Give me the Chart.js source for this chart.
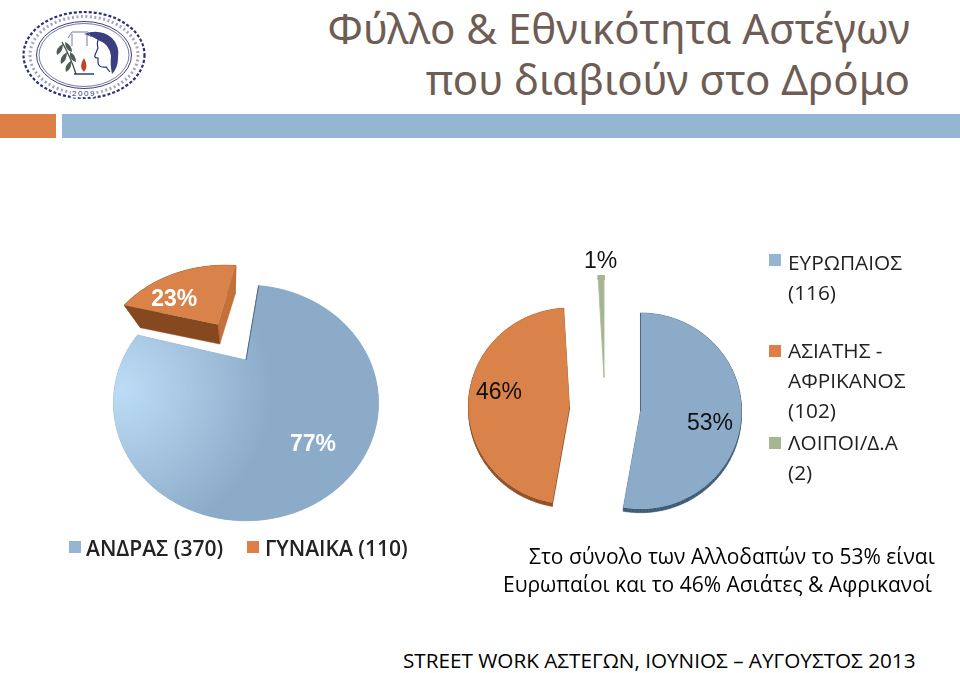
<!DOCTYPE html>
<html>
<head>
<meta charset="utf-8">
<script src="https://cdn.jsdelivr.net/npm/chart.js@4"></script>
<style>
html, body { margin: 0; padding: 0; background: #fff; }
body { position: relative; width: 960px; height: 673px; overflow: hidden; font-family: "Open Sans", "Noto Sans", sans-serif; color: #000; }
canvas { position: absolute; }
.txt { position: absolute; white-space: nowrap; }
.title { right: 50px; font-family: "Noto Sans", sans-serif; font-size: 42px; color: #6e5d55; }
.bar { position: absolute; top: 114px; height: 24px; }
.swatch { position: absolute; width: 12px; height: 12px; }
</style>
</head>
<body>
<svg style="position:absolute;left:18px;top:6px" width="132" height="98" viewBox="0 0 132 98">
  <ellipse cx="66" cy="49" rx="60.5" ry="43" fill="none" stroke="#2b2f78" stroke-width="2.2" stroke-dasharray="3 2"/>
  <ellipse cx="66" cy="49" rx="54" ry="38.5" fill="none" stroke="#55588f" stroke-width="3" stroke-dasharray="2 2.5" opacity="0.55"/>
  <ellipse cx="66" cy="49" rx="47.5" ry="33.5" fill="none" stroke="#3a3d7c" stroke-width="1"/>
  <ellipse cx="66" cy="49" rx="45" ry="31.5" fill="none" stroke="#3a3d7c" stroke-width="0.7"/>
  <path d="M82 30 q-4 6 -2 12 l-3 7 q-1 3 3 3 l0 5 q1 5 8 4 l4 5" fill="none" stroke="#2b2f78" stroke-width="1.2"/>
  <path d="M66 28 q16 -6 28 4 q8 8 6 20 q0 10 -6 16 q-2 -10 -1 -18 q-2 -12 -11 -15 q-8 -5 -16 -7z" fill="#3b3e80"/>
  <path d="M44 36 q9 16 14 32" fill="none" stroke="#3f4c48" stroke-width="1.3"/>
  <path d="M45 38 q-8 4 -6 11 q6 -3 6 -11z M49 46 q-8 5 -6 12 q6 -3 6 -12z M53 55 q-7 4 -5 11 q6 -3 5 -11z M47 36 q7 3 7 10 q-7 -2 -7 -10z M52 46 q6 3 6 10 q-7 -2 -6 -10z" fill="#4f5d56"/>
  <path d="M66 52 q-6 9 0 14 q5 -5 0 -14z" fill="#c0452e"/>
  <path d="M56 68 h20" stroke="#333a6a" stroke-width="1.5"/>
  <path d="M50 32 l4 -6 h16 l3 5 M54 28 v12 M69 28 v12" fill="none" stroke="#777aa5" stroke-width="1"/>
  <text x="66" y="90" font-family="Liberation Sans" font-size="8" text-anchor="middle" fill="#333a6a" letter-spacing="1.5" stroke="#fff" stroke-width="3" paint-order="stroke">2009</text>
</svg>

<div class="txt title" style="top:-1px">Φύλλο &amp; Εθνικότητα Αστέγων</div>
<div class="txt title" style="top:50px">που διαβιούν στο Δρόμο</div>

<div class="bar" style="left:0;width:56px;background:#dd8047"></div>
<div class="bar" style="left:62px;width:898px;background:#94b6d2"></div>

<canvas id="genderPie" width="400" height="400" style="left:46px;top:160px"></canvas>
<canvas id="originPie" width="400" height="400" style="left:405px;top:208px"></canvas>

<div id="legends"></div>

<div class="txt" style="left:529px;top:542px;font-size:21px">Στο σύνολο των Αλλοδαπών το 53% είναι</div>
<div class="txt" style="left:503px;top:570px;font-size:21px">Ευρωπαίοι και το 46% Ασιάτες &amp; Αφρικανοί</div>
<div class="txt" style="left:403px;top:646px;font-size:20.7px">STREET WORK ΑΣΤΕΓΩΝ, ΙΟΥΝΙΟΣ – ΑΥΓΟΥΣΤΟΣ 2013</div>

<script>
// Data
const genderLabels = ['ΑΝΔΡΑΣ', 'ΓΥΝΑΙΚΑ'];
const genderValues = [370, 110];
const originLabels = ['ΕΥΡΩΠΑΙΟΣ', 'ΑΣΙΑΤΗΣ - ΑΦΡΙΚΑΝΟΣ', 'ΛΟΙΠΟΙ/Δ.Α'];
const originValues = [116, 102, 2];

const blue = '#8cabc9';
const orange = '#d9824a';
const green = '#a6b592';

// Tilted-disc projection of the arcs Chart.js lays out: the library gives the
// angles and offsets, this plugin only paints them with a bit of perspective.
const tiltPlugin = {
    id: 'tilt',
    beforeDatasetDraw(chart, args, opts) {
        const ctx = chart.ctx;
        const arcs = chart.getDatasetMeta(args.index).data;
        const values = chart.data.datasets[args.index].data;
        const total = values.reduce((a, b) => a + b, 0);

        arcs.forEach((arc, i) => {
            const mid = (arc.startAngle + arc.endAngle) / 2;
            const off = (arc.options.offset || 0) / arc.outerRadius;
            const du = Math.cos(mid) * off;
            const dv = Math.sin(mid) * off;

            const project = (u, v) => {
                const w = 1 + opts.tilt * (v + dv);
                return [arc.x + opts.radiusX * (u + du) / w, arc.y + opts.radiusY * (v + dv) / w];
            };
            const lower = (p) => [
                p[0] + (arc.x + opts.vanish[0] - p[0]) * opts.depth,
                p[1] + (arc.y + opts.vanish[1] - p[1]) * opts.depth,
            ];
            const quad = (a, b, color) => {
                const la = lower(a);
                const lb = lower(b);
                ctx.fillStyle = color;
                ctx.strokeStyle = color;
                ctx.lineWidth = 0.5;
                ctx.beginPath();
                ctx.moveTo(a[0], a[1]);
                ctx.lineTo(b[0], b[1]);
                ctx.lineTo(lb[0], lb[1]);
                ctx.lineTo(la[0], la[1]);
                ctx.closePath();
                ctx.fill();
                ctx.stroke();
            };

            const rim = [];
            const steps = 120;
            for (let s = 0; s <= steps; s++) {
                const a = arc.startAngle + (arc.endAngle - arc.startAngle) * s / steps;
                rim.push(project(Math.cos(a), Math.sin(a)));
            }
            const apex = project(0, 0);

            // walls
            for (let s = 0; s < steps; s++) {
                quad(rim[s], rim[s + 1], opts.rimWall[i]);
            }
            quad(apex, rim[steps], opts.endWall[i]);
            quad(apex, rim[0], opts.startWall[i]);

            // top face
            let fill = arc.options.backgroundColor;
            if (opts.glow && i === 0) {
                const g = ctx.createRadialGradient(
                    arc.x + opts.glow[0], arc.y + opts.glow[1], 0,
                    arc.x + opts.glow[0], arc.y + opts.glow[1], opts.glow[2]);
                g.addColorStop(0, '#bcdcf6');
                g.addColorStop(1, fill);
                fill = g;
            }
            ctx.fillStyle = fill;
            ctx.beginPath();
            ctx.moveTo(apex[0], apex[1]);
            rim.forEach((p) => ctx.lineTo(p[0], p[1]));
            ctx.closePath();
            ctx.fill();

            if (opts.edgeLine[i]) {
                ctx.strokeStyle = opts.edgeLine[i];
                ctx.lineWidth = 1;
                ctx.beginPath();
                ctx.moveTo(apex[0], apex[1]);
                ctx.lineTo(rim[0][0], rim[0][1]);
                ctx.stroke();
            }

            // percent label
            const labelAngle = mid + opts.labelTurn[i] * Math.PI / 180;
            const at = project(Math.cos(labelAngle) * opts.labelRadius[i], Math.sin(labelAngle) * opts.labelRadius[i]);
            ctx.fillStyle = opts.labelColor;
            ctx.font = opts.labelFont;
            ctx.textAlign = 'center';
            ctx.textBaseline = 'middle';
            ctx.fillText(Math.round(values[i] / total * 100) + '%', at[0], at[1]);
        });
        return false;
    },
};

const commonOptions = {
    responsive: false,
    animation: false,
    events: [],
    layout: { padding: 0 },
    plugins: { legend: { display: false }, tooltip: { enabled: false } },
};

new Chart(document.getElementById('genderPie').getContext('2d'), {
    type: 'pie',
    plugins: [tiltPlugin],
    data: {
        labels: genderLabels,
        datasets: [{
            data: genderValues,
            backgroundColor: [blue, orange],
            borderWidth: 0,
            offset: [0, 77],
        }],
    },
    options: {
        ...commonOptions,
        rotation: 8,
        plugins: {
            ...commonOptions.plugins,
            tilt: {
                tilt: -0.364,
                radiusX: 123.5,
                radiusY: 102.3,
                vanish: [-15, 94],
                depth: 0.152,
                rimWall: [blue, '#8a4f25'],
                startWall: [blue, '#86491f'],
                endWall: [blue, '#c4703a'],
                edgeLine: ['#4d6a85', null],
                glow: [-124, 30, 150],
                labelRadius: [0.76, 0.6],
                labelTurn: [0, -20],
                labelColor: '#fff',
                labelFont: 'bold 23px "Liberation Sans"',
            },
        },
    },
});

new Chart(document.getElementById('originPie').getContext('2d'), {
    type: 'pie',
    plugins: [tiltPlugin],
    data: {
        labels: originLabels,
        datasets: [{
            data: originValues,
            backgroundColor: [blue, orange, green],
            borderWidth: 0,
            offset: [60, 60, 60],
        }],
    },
    options: {
        ...commonOptions,
        rotation: 0,
        plugins: {
            ...commonOptions.plugins,
            tilt: {
                tilt: 0,
                radiusX: 101,
                radiusY: 98,
                vanish: [0, 2000],
                depth: 0.002,
                rimWall: ['#3f5a75', '#8f4f22', green],
                startWall: ['#4d6a85', '#8f4f22', green],
                endWall: ['#4d6a85', '#8f4f22', green],
                edgeLine: ['#4d6a85', null, null],
                labelRadius: [0.7, 0.71, 1.14],
                labelTurn: [6, 7.5, 0],
                labelColor: '#111',
                labelFont: '23px "Liberation Sans"',
            },
        },
    },
});

// Legends are plain text next to the pies
const legends = document.getElementById('legends');
function addLegendItem(squareX, squareY, textX, textY, color, lines, bold) {
    const sq = document.createElement('div');
    sq.className = 'swatch';
    sq.style.cssText = `left:${squareX}px;top:${squareY}px;background:${color}`;
    legends.appendChild(sq);
    lines.forEach((line, i) => {
        const t = document.createElement('div');
        t.className = 'txt';
        t.textContent = line;
        t.style.cssText = `left:${textX}px;top:${textY + i * 30}px;font-size:${bold ? 21 : 20.8}px;${bold ? 'font-weight:600;' : ''}color:#222`;
        legends.appendChild(t);
    });
}
addLegendItem(69, 541, 86, 534, '#94b6d2', [`${genderLabels[0]} (${genderValues[0]})`], true);
addLegendItem(247, 541, 265, 534, '#dd8047', [`${genderLabels[1]} (${genderValues[1]})`], true);
addLegendItem(769, 254, 788, 248, '#94b6d2', [originLabels[0], `(${originValues[0]})`], false);
addLegendItem(769, 345, 788, 336, '#dd8047', ['ΑΣΙΑΤΗΣ -', 'ΑΦΡΙΚΑΝΟΣ', `(${originValues[1]})`], false);
addLegendItem(769, 437, 788, 428, '#a6b592', [originLabels[2], `(${originValues[2]})`], false);
</script>
</body>
</html>
